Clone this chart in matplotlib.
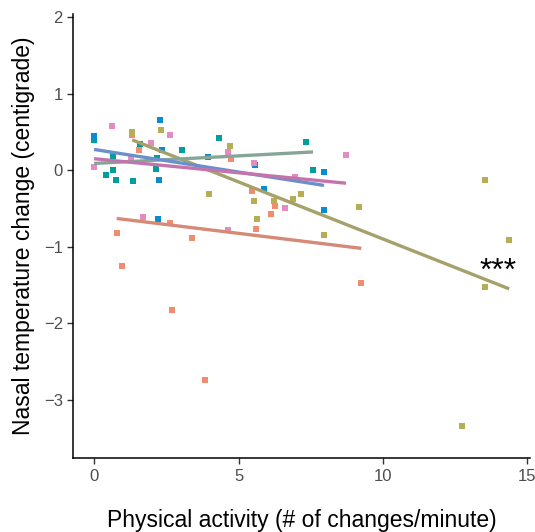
import matplotlib
matplotlib.use("Agg")
import matplotlib.pyplot as plt
import numpy as np

plt.rcParams['font.family'] = ['Liberation Sans', 'DejaVu Sans']

groups = ["salmon", "olive", "teal", "blue", "pink"]

salmon_x = [1.30, 1.57, 4.75, 5.48, 6.11, 6.27, 5.61, 2.64, 0.78, 3.39, 0.97, 2.69, 3.85, 9.25]
salmon_y = [0.46, 0.27, 0.15, -0.27, -0.57, -0.46, -0.77, -0.69, -0.82, -0.89, -1.25, -1.83, -2.74, -1.47]

olive_x = [1.32, 2.33, 4.70, 3.97, 5.55, 6.24, 6.88, 7.15, 9.18, 5.64, 7.96, 13.54, 14.37, 13.54, 12.74]
olive_y = [0.50, 0.52, 0.32, -0.31, -0.40, -0.40, -0.37, -0.31, -0.48, -0.64, -0.85, -0.13, -0.91, -1.53, -3.34]

teal_x = [0.0, 0.66, 0.67, 0.42, 0.77, 1.33, 2.19, 2.16, 3.04, 4.33, 7.33, 7.58, 1.59]
teal_y = [0.39, 0.18, 0.01, -0.06, -0.13, -0.14, 0.16, 0.02, 0.26, 0.42, 0.37, 0.01, 0.34]

blue_x = [0.0, 2.27, 2.36, 3.96, 2.25, 2.22, 5.56, 5.88, 7.96, 7.96]
blue_y = [0.45, 0.65, 0.27, 0.17, -0.13, -0.63, 0.07, -0.24, -0.02, -0.52]

pink_x = [0.63, 2.63, 1.97, 4.63, 1.28, 5.55, 0.0, 1.69, 4.63, 8.72, 6.97, 6.62]
pink_y = [0.58, 0.46, 0.35, 0.24, 0.16, 0.10, 0.04, -0.61, -0.78, 0.20, -0.09, -0.49]

# regression fits (intercept, slope)
fit_intercept = {"salmon": -0.593, "olive": 0.593, "teal": 0.089, "blue": 0.272, "pink": 0.151}
fit_slope = {"salmon": -0.0461, "olive": -0.149, "teal": 0.0198, "blue": -0.059, "pink": -0.0367}

point_colors = {"salmon": "#F28C6E", "olive": "#B6AE55", "teal": "#009E9C", "blue": "#0A8DD0", "pink": "#E48CC0"}
line_colors = {"salmon": "#D48A77", "olive": "#A6A16A", "teal": "#85A697", "blue": "#6B8FCB", "pink": "#C474AC"}

data = {
    "salmon": (salmon_x, salmon_y),
    "olive": (olive_x, olive_y),
    "teal": (teal_x, teal_y),
    "blue": (blue_x, blue_y),
    "pink": (pink_x, pink_y),
}

W, H = 535, 532
fig = plt.figure(figsize=(W / 100, H / 100), dpi=100)
ax = fig.add_axes([73.3 / W, 1 - 458.3 / H, (530 - 73.3) / W, (458.3 - 14) / H])

for g in groups:
    xs, ys = data[g]
    ax.scatter(xs, ys, s=18, marker="s", color=point_colors[g], linewidths=0, zorder=2)

for g in groups:
    xs, _ = data[g]
    xr = np.array([min(xs), max(xs)])
    ax.plot(xr, fit_intercept[g] + fit_slope[g] * xr, color=line_colors[g], lw=2.4,
            solid_capstyle="butt", zorder=3)

ax.text(14.0, -1.43, "***", fontsize=23, ha="center", va="baseline", color="black")

ax.set_xlim(-0.72, 15.09)
ax.set_ylim(-3.76, 2.04)
ax.set_xticks([0, 5, 10, 15])
ax.set_yticks([-3, -2, -1, 0, 1, 2])
ax.set_yticklabels(["\u22123", "\u22122", "\u22121", "0", "1", "2"])
for s in ["top", "right"]:
    ax.spines[s].set_visible(False)
for s in ["left", "bottom"]:
    ax.spines[s].set_linewidth(1.1)
    ax.spines[s].set_color("black")
ax.tick_params(axis="both", length=4, width=1, color="#333333", labelcolor="#4D4D4D",
               labelsize=12, pad=3.5)
ax.set_xlabel("Physical activity (# of changes/minute)", fontsize=16.5, labelpad=18)
ax.set_ylabel("Nasal temperature change (centigrade)", fontsize=16.5, labelpad=6.5)

fig.savefig("out.png", dpi=100)
